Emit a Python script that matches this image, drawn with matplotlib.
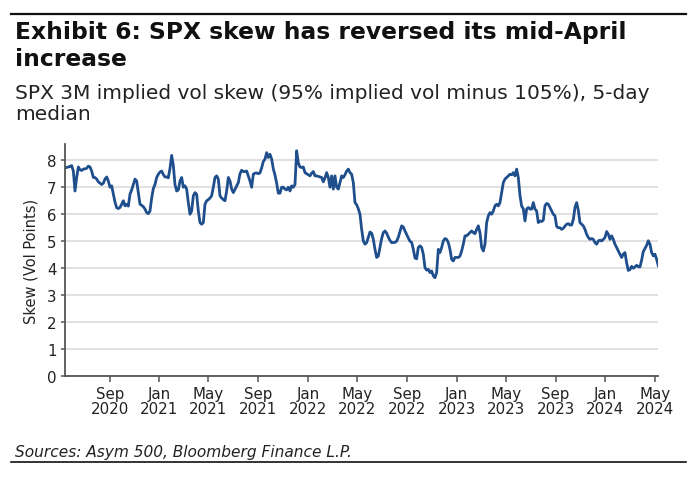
import numpy as np
import pandas as pd
import matplotlib
matplotlib.use("Agg")
import matplotlib.pyplot as plt
import matplotlib.dates as mdates
from matplotlib.lines import Line2D

# ---------------- data ----------------
start_date = "2020-05-14"
end_date = "2024-05-10"

skew_mid2020_early2021 = [
    7.72, 7.73, 7.75, 7.77, 7.80, 7.60, 6.86, 7.36, 7.75, 7.65,
    7.62, 7.67, 7.68, 7.70, 7.78, 7.75, 7.60, 7.36, 7.36, 7.30,
    7.20, 7.15, 7.10, 7.15, 7.30, 7.38, 7.23, 7.00, 7.05, 6.74,
    6.45, 6.24, 6.21, 6.25, 6.37, 6.50, 6.31, 6.37, 6.30, 6.74,
    6.90, 7.10, 7.30, 7.23, 6.80, 6.37, 6.33, 6.28, 6.19, 6.06,
    6.02, 6.12, 6.60, 6.95, 7.10, 7.36, 7.48, 7.56, 7.60, 7.47,
    7.38, 7.38, 7.35, 7.70, 8.18, 7.80, 7.10, 6.86, 6.90,
]
skew_2021 = [
    7.23, 7.36, 7.00, 7.05, 6.93, 6.43, 6.00, 6.12, 6.68, 6.80,
    6.74, 6.12, 5.69, 5.63, 5.69, 6.37, 6.50, 6.54, 6.60, 6.68,
    7.00, 7.36, 7.42, 7.30, 6.68, 6.60, 6.54, 6.50, 6.86, 7.36,
    7.23, 6.93, 6.80, 6.92, 7.05, 7.17, 7.50, 7.63, 7.58, 7.58,
    7.60, 7.42, 7.23, 7.00, 7.48, 7.52, 7.53, 7.50, 7.53, 7.72,
    7.95, 8.04, 8.28, 8.10, 8.22, 8.04, 7.68, 7.45, 7.15, 6.78,
    6.78, 7.00, 7.00, 6.93, 6.90, 7.00, 6.86, 7.05, 7.00, 7.10,
    8.35, 7.90,
]
skew_2022 = [
    7.75, 7.73, 7.75, 7.54, 7.50, 7.46, 7.42, 7.52, 7.58, 7.42,
    7.42, 7.40, 7.38, 7.36, 7.20, 7.35, 7.54, 7.36, 7.00, 7.42,
    6.93, 7.42, 7.00, 6.93, 7.17, 7.42, 7.36, 7.46, 7.60, 7.67,
    7.54, 7.48, 7.17, 6.43, 6.35, 6.20, 6.00, 5.44, 5.01, 4.89,
    4.95, 5.15, 5.34, 5.30, 5.07, 4.70, 4.40, 4.45, 4.78, 5.10,
    5.32, 5.38, 5.30, 5.15, 5.03, 4.95, 4.95, 4.96, 5.00, 5.15,
    5.36, 5.57, 5.53, 5.38, 5.25, 5.12, 5.00, 4.96, 4.70, 4.38,
    4.35, 4.77,
]
skew_2023 = [
    4.83, 4.77, 4.52, 4.02, 3.93, 3.96, 3.84, 3.90, 3.72, 3.65,
    3.84, 4.70, 4.58, 4.77, 5.01, 5.10, 5.07, 4.95, 4.70, 4.33,
    4.27, 4.40, 4.40, 4.40, 4.45, 4.64, 4.89, 5.20, 5.20, 5.26,
    5.32, 5.38, 5.32, 5.28, 5.44, 5.57, 5.32, 4.77, 4.64, 4.89,
    5.69, 5.94, 6.06, 6.00, 6.12, 6.31, 6.37, 6.31, 6.43, 6.80,
    7.17, 7.30, 7.36, 7.42, 7.48, 7.46, 7.54, 7.42, 7.67, 7.36,
    6.70, 6.30, 6.20, 5.75, 6.19, 6.25, 6.19, 6.19, 6.43, 6.19,
    6.12, 5.69,
]
skew_late2023_2024 = [
    5.75, 5.73, 5.78, 6.31, 6.40, 6.37, 6.25, 6.12, 6.00, 5.94,
    5.55, 5.50, 5.50, 5.44, 5.48, 5.56, 5.63, 5.65, 5.60, 5.60,
    5.80, 6.25, 6.43, 6.15, 5.69, 5.63, 5.57, 5.44, 5.26, 5.14,
    5.07, 5.10, 5.07, 4.95, 4.89, 5.01, 5.04, 5.01, 5.07, 5.14,
    5.36, 5.26, 5.07, 5.20, 5.07, 4.89, 4.77, 4.64, 4.52, 4.40,
    4.52, 4.58, 4.20, 3.92, 3.95, 4.07, 4.00, 4.05, 4.11, 4.06,
    4.05, 4.30, 4.62, 4.73, 4.85, 5.02, 4.89, 4.58, 4.46, 4.52,
    4.33, 4.09,
]

tick_dates = ["2020-09-01", "2021-01-01", "2021-05-01", "2021-09-01",
              "2022-01-01", "2022-05-01", "2022-09-01", "2023-01-01",
              "2023-05-01", "2023-09-01", "2024-01-01", "2024-05-01"]
tick_labels = ["Sep\n2020", "Jan\n2021", "May\n2021", "Sep\n2021",
               "Jan\n2022", "May\n2022", "Sep\n2022", "Jan\n2023",
               "May\n2023", "Sep\n2023", "Jan\n2024", "May\n2024"]
y_ticks = [0, 1, 2, 3, 4, 5, 6, 7, 8]

title = "Exhibit 6: SPX skew has reversed its mid-April\nincrease"
subtitle = "SPX 3M implied vol skew (95% implied vol minus 105%), 5-day\nmedian"
ylabel = "Skew (Vol Points)"
source = "Sources: Asym 500, Bloomberg Finance L.P."

# ---------------- build series ----------------
values = np.array(skew_mid2020_early2021 + skew_2021 + skew_2022
                  + skew_2023 + skew_late2023_2024)
dates = pd.date_range(start_date, end_date, periods=len(values))

# ---------------- figure ----------------
W, H = 700, 481
fig = plt.figure(figsize=(W / 100, H / 100), dpi=100)
plt.rcParams['font.family'] = ['DejaVu Sans']

ax = fig.add_axes([65 / W, 1 - 377.3 / H, (658.3 - 65) / W, (377.3 - 145) / H])

ax.plot(dates, values, color="#1f4e8d", lw=2.0, solid_joinstyle="round")

ax.set_xlim(pd.Timestamp(start_date), pd.Timestamp(end_date))
ax.set_ylim(0, 8.6)
ax.set_yticks(y_ticks)
ax.set_xticks(pd.to_datetime(tick_dates))
ax.set_xticklabels(tick_labels)

ax.grid(axis="y", color="#dedede", lw=1.3)
ax.set_axisbelow(True)
for s in ["top", "right"]:
    ax.spines[s].set_visible(False)
for s in ["left", "bottom"]:
    ax.spines[s].set_color("#555555")
    ax.spines[s].set_linewidth(1.3)

ax.tick_params(axis="x", length=4, width=1.1, color="#555555",
               labelsize=10.8, labelcolor="#222222", pad=3)
ax.tick_params(axis="y", length=3, width=1.1, color="#555555",
               labelsize=10.8, labelcolor="#222222", pad=3)
for lbl in ax.get_xticklabels():
    lbl.set_linespacing(1.0)

ax.set_ylabel(ylabel, fontsize=10.5, color="#222222", labelpad=6)

# title / subtitle
fig.text(15 / W, 1 - 21 / H, title, fontsize=16.8, fontweight="bold",
         va="top", ha="left", color="#111111", linespacing=1.2)
fig.text(15 / W, 1 - 84 / H, subtitle, fontsize=14.5, va="top", ha="left",
         color="#222222", linespacing=1.12)
fig.text(15 / W, 1 - 452 / H, source, fontsize=11.1, style="italic",
         va="center", ha="left", color="#222222")

# rule lines
fig.add_artist(Line2D([11 / W, 686 / W], [1 - 15 / H, 1 - 15 / H],
                      color="#111111", lw=1.6))
fig.add_artist(Line2D([11 / W, 686 / W], [1 - 463 / H, 1 - 463 / H],
                      color="#111111", lw=1.2))

fig.savefig("out.png", dpi=100)
